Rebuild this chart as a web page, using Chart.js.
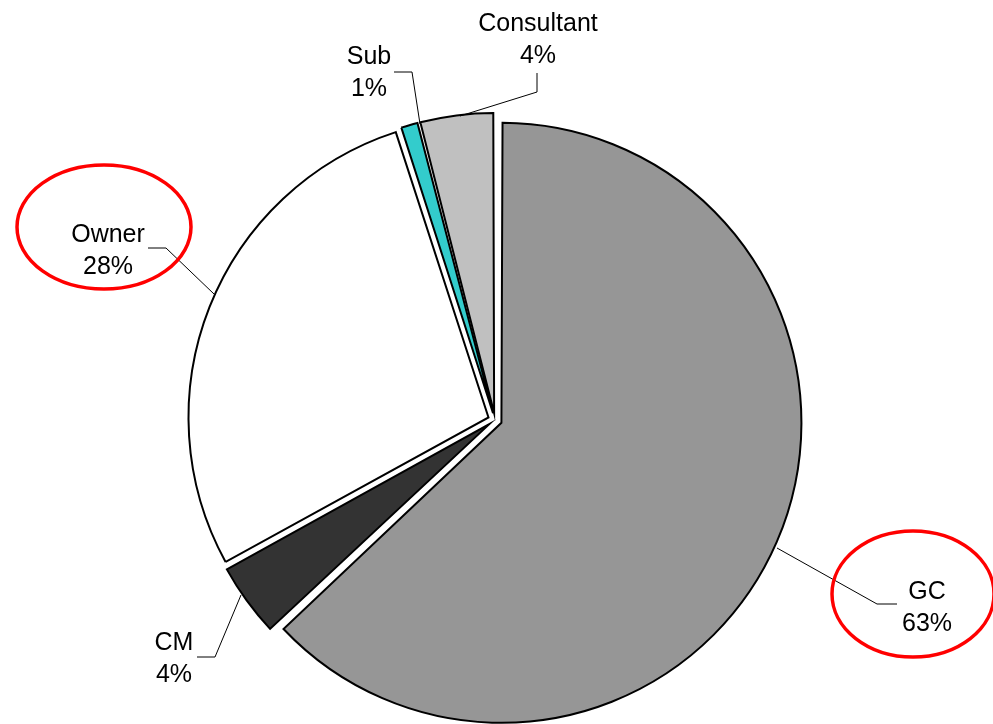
<!DOCTYPE html>
<html>
<head>
<meta charset="utf-8">
<script src="https://cdn.jsdelivr.net/npm/chart.js@4/dist/chart.umd.min.js"></script>
<style>
  html, body { margin: 0; padding: 0; background: #fff; }
  #wrap { width: 993px; height: 724px; }
</style>
</head>
<body>
<div id="wrap"><canvas id="pie" width="993" height="724"></canvas></div>
<script>
const categories = ['GC', 'CM', 'Owner', 'Sub', 'Consultant'];
const shares = [63, 4, 28, 1, 4];
const sliceColors = ['#969696', '#333333', '#ffffff', '#33cccc', '#c0c0c0'];

const PIE_RADIUS = 300;
const EXPLODE = 28; // arc moves offset / 4 px along its mid angle

// where each label sits (center x, first baseline) and its leader line
const callouts = {
  GC:         { x: 927, y: 599, line: [[897, 604], [877, 604], [777, 548]] },
  CM:         { x: 174, y: 650, line: [[197, 657], [215, 657], [241, 595]] },
  Owner:      { x: 108, y: 242, line: [[148, 248], [166, 248], [214, 294]] },
  Sub:        { x: 369, y: 64,  line: [[394, 72], [412, 72], [420, 124]] },
  Consultant: { x: 538, y: 31,  line: [[537, 73], [537, 92], [460, 116]] },
};
const LINE_GAP = 32;

// red rings drawn round two of the labels
const rings = [
  { cx: 104, cy: 227, rx: 87, ry: 62 },
  { cx: 913, cy: 594, rx: 81, ry: 63 },
];

// keep every slice on the same radius even though chart.js grows offset arcs
const evenRadius = {
  id: 'evenRadius',
  afterDatasetsUpdate(chart) {
    chart.getDatasetMeta(0).data.forEach(arc => {
      const fix = 1 - Math.sin(Math.min(Math.PI, arc.circumference));
      arc.outerRadius = PIE_RADIUS - (EXPLODE / 4) * fix;
    });
  }
};

const calloutLabels = {
  id: 'calloutLabels',
  afterDraw(chart) {
    const ctx = chart.ctx;
    ctx.save();
    ctx.strokeStyle = '#000';
    ctx.lineWidth = 1;
    categories.forEach((name, i) => {
      const c = callouts[name];
      ctx.beginPath();
      c.line.forEach(([x, y], k) => k ? ctx.lineTo(x, y) : ctx.moveTo(x, y));
      ctx.stroke();

      ctx.fillStyle = '#000';
      ctx.font = '25px "Liberation Sans", Arial, sans-serif';
      ctx.textAlign = 'center';
      ctx.textBaseline = 'alphabetic';
      ctx.fillText(name, c.x, c.y);
      ctx.fillText(shares[i] + '%', c.x, c.y + LINE_GAP);
    });

    ctx.strokeStyle = '#ff0000';
    ctx.lineWidth = 3.5;
    rings.forEach(r => {
      ctx.beginPath();
      ctx.ellipse(r.cx, r.cy, r.rx, r.ry, 0, 0, Math.PI * 2);
      ctx.stroke();
    });
    ctx.restore();
  }
};

new Chart(document.getElementById('pie'), {
  type: 'pie',
  data: {
    labels: categories,
    datasets: [{
      data: shares,
      backgroundColor: sliceColors,
      borderColor: '#000',
      borderWidth: 2,
      borderJoinStyle: 'miter',
      offset: EXPLODE,
      hoverOffset: EXPLODE,
    }],
  },
  options: {
    responsive: false,
    animation: false,
    events: [],
    radius: PIE_RADIUS,
    layout: { padding: { left: 0, right: 3, top: 116, bottom: 0 } },
    plugins: {
      legend: { display: false },
      tooltip: { enabled: false },
    },
  },
  plugins: [evenRadius, calloutLabels],
});
</script>
</body>
</html>
